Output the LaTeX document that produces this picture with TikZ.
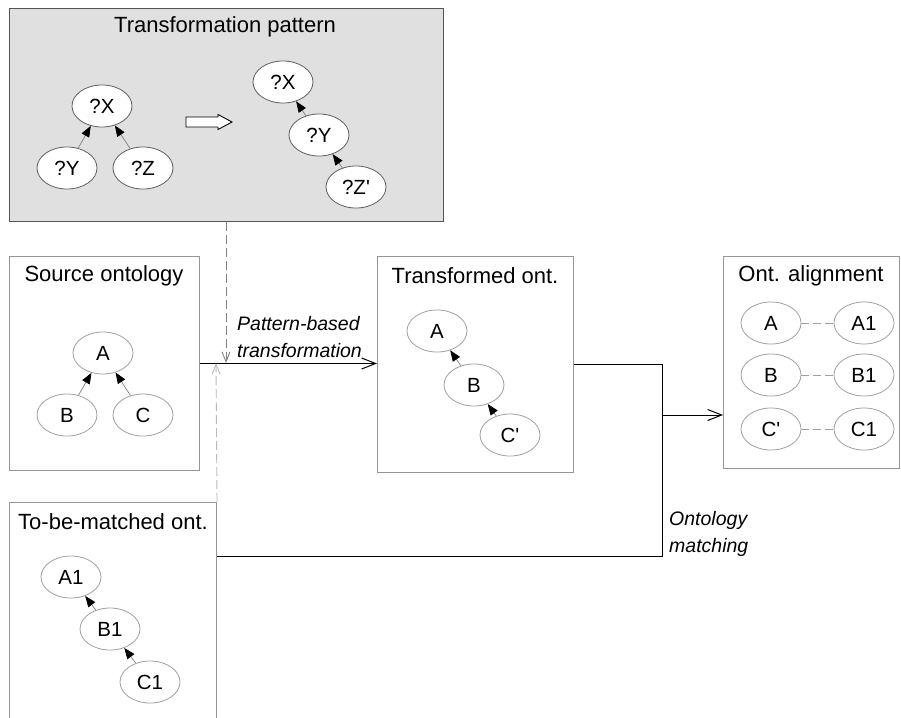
\documentclass[tikz,border=0pt]{standalone}
\usepackage{fontspec}
\setmainfont{Liberation Sans}[Ligatures=TeXOff]
\usetikzlibrary{arrows.meta,shapes.geometric}
\definecolor{panel}{RGB}{224,224,224}
\definecolor{panelline}{RGB}{85,85,85}
\definecolor{boxline}{RGB}{150,150,150}
\definecolor{ellline}{RGB}{160,160,160}
\definecolor{patell}{RGB}{95,95,95}
\definecolor{dashdark}{RGB}{130,130,130}
\definecolor{dashlight}{RGB}{185,185,185}
\begin{document}
\begin{tikzpicture}[x=1pt,y=-1pt,
  box/.style={draw=boxline, line width=1pt, fill=white, anchor=north west, inner sep=0pt},
  title/.style={font=\fontsize{22}{26}\selectfont, inner sep=0pt},
  ell/.style={ellipse, draw=ellline, line width=0.8pt, fill=white, minimum width=60pt,
              minimum height=42pt, inner sep=0pt, font=\fontsize{20.5}{21}\selectfont},
  patell/.style={ell, draw=patell},
  tarrow/.style={draw=gray, line width=0.7pt, -{Triangle[length=11pt,width=8.5pt,color=black]}},
  conn/.style={draw=black, line width=1pt},
  barb/.style={-{Straight Barb[length=14pt,width=11pt]}},
  link/.style={draw=ellline, line width=0.9pt, dash pattern=on 8pt off 4pt},
  lbl/.style={font=\fontsize{19.5}{27}\selectfont\itshape, align=left, inner sep=0pt, anchor=west}]
\useasboundingbox (0,0) rectangle (901,717);

% transformation pattern panel
\node[box, draw=panelline, fill=panel, minimum width=434pt, minimum height=213pt] (pat) at (9,8) {};
\node[title] (pattitle) at (225,27) {Transformation pattern};
\node[patell] (px) at (102,106) {?X};
\node[patell] (py) at (67,168) {?Y};
\node[patell] (pz) at (143,168) {?Z};
\draw[tarrow] (py) -- (px);
\draw[tarrow] (pz) -- (px);
% hollow block arrow between the two trees
\draw[draw=black, fill=white, line width=0.9pt]
  (186,117) -- (218,117) -- (218,114.5) -- (232,122) -- (218,129.5) -- (218,127) -- (186,127) -- cycle;
\node[patell] (qx) at (283,82) {?X};
\node[patell] (qy) at (319,135) {?Y};
\node[patell] (qz) at (356,187) {?Z'};
\draw[tarrow] (qy) -- (qx);
\draw[tarrow] (qz) -- (qy);

% source ontology
\node[box, minimum width=190pt, minimum height=214pt] (src) at (9,256) {};
\node[title] (srctitle) at (104,276) {Source ontology};
\node[ell] (sa) at (103,353) {A};
\node[ell] (sb) at (67,415) {B};
\node[ell] (sc) at (143,415) {C};
\draw[tarrow] (sb) -- (sa);
\draw[tarrow] (sc) -- (sa);

% transformed ontology
\node[box, minimum width=196pt, minimum height=216pt] (trans) at (377,256) {};
\node[title] (transtitle) at (475,276) {Transformed ont.};
\node[ell] (ta) at (437,331) {A};
\node[ell] (tb) at (474,385) {B};
\node[ell] (tc) at (510,435) {C'};
\draw[tarrow] (tb) -- (ta);
\draw[tarrow] (tc) -- (tb);

% ontology alignment
\node[box, minimum width=176pt, minimum height=212pt] (align) at (723,256) {};
\node[title] (aligntitle) at (811,276) {Ont. alignment};
\node[ell] (aa) at (771,323) {A};
\node[ell] (aa1) at (864,323) {A1};
\node[ell] (ab) at (771,375) {B};
\node[ell] (ab1) at (864,375) {B1};
\node[ell] (ac) at (771,429) {C'};
\node[ell] (ac1) at (864,429) {C1};
\draw[link] (aa) -- (aa1);
\draw[link] (ab) -- (ab1);
\draw[link] (ac) -- (ac1);

% ontology to be matched
\node[box, minimum width=207pt, minimum height=225pt] (tbm) at (9,502) {};
\node[title] (tbmtitle) at (113,522) {To-be-matched ont.};
\node[ell] (ma) at (71,577) {A1};
\node[ell] (mb) at (110,629) {B1};
\node[ell] (mc) at (150,682) {C1};
\draw[tarrow] (mb) -- (ma);
\draw[tarrow] (mc) -- (mb);

% pattern-based transformation
\coordinate (patin) at (226,363);
\coordinate (tbmin) at (216,363);
\draw[conn, barb] (src.east) -- (src.east -| trans.west);
\draw[draw=dashdark, line width=0.9pt, dash pattern=on 9pt off 4pt,
      -{Straight Barb[length=10pt,width=8pt]}] (pat.south -| patin) -- (patin);
\draw[draw=dashlight, line width=0.9pt, dash pattern=on 9pt off 4pt,
      -{Straight Barb[length=10pt,width=8pt]}] (tbm.north east) -- (tbmin);
\node[lbl] (ptlabel) at (237,337) {Pattern-based\\transformation};

% ontology matching
\coordinate (jn) at (662,415);
\coordinate (tbmout) at (tbm.north east |- 0,556);
\draw[conn] (trans.east) -| (jn);
\draw[conn] (tbmout) -| (jn);
\draw[conn, barb] (jn) -- (align.west |- jn);
\node[lbl] (omlabel) at (669,534) {Ontology\\matching};
\end{tikzpicture}
\end{document}
